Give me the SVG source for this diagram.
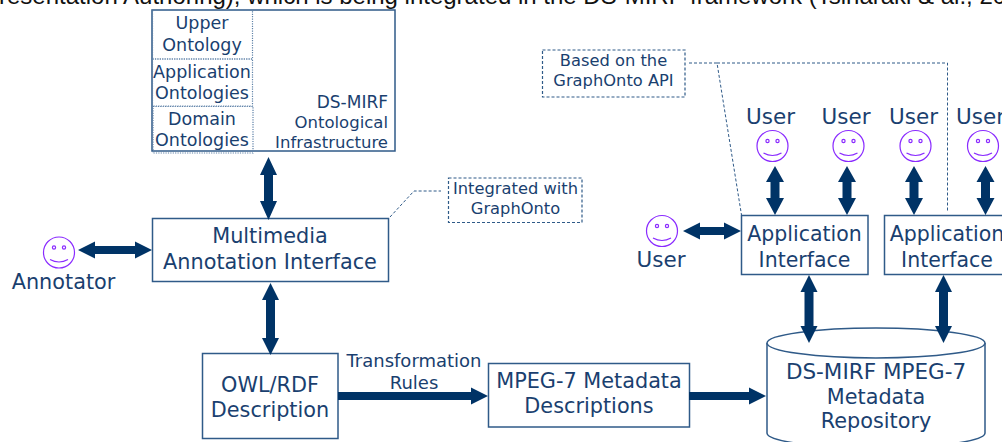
<svg xmlns="http://www.w3.org/2000/svg" width="1002" height="442" viewBox="0 0 1002 442">
<style>
text{font-family:"DejaVu Sans",Verdana,sans-serif;fill:#1a3f6f;text-anchor:middle}
.t21{font-size:20.800px}.t22{font-size:21.500px}.t20{font-size:20.500px}.t18{font-size:18px}.t17{font-size:17.500px}.t16{font-size:16.300px}.t17r{font-size:16.500px;text-anchor:end}
.box{fill:#fff;stroke:#2f5a88;stroke-width:1.5}
.cell{fill:none;stroke:#5f82a8;stroke-width:1.2;stroke-dasharray:1.2 1.2}
.note{fill:#fff;stroke:#2f5a88;stroke-width:1.2;stroke-dasharray:3 2}
.lead{fill:none;stroke:#2f5a88;stroke-width:1;stroke-dasharray:3 2}
.arr{fill:#003366}
.face{fill:none;stroke:#8a2bff;stroke-width:1.2}
</style>
<defs>
<g id="smiley">
<circle class="face" r="15.500"/>
<circle class="face" cx="-5" cy="-5" r="1.600"/>
<circle class="face" cx="5" cy="-5" r="1.600"/>
<path class="face" d="M-9 7Q0 12 9 7"/>
</g>
</defs>
<text id="caption" x="-1" y="3.500" style="font-family:'Liberation Sans',Arial,sans-serif;fill:#111;text-anchor:start;font-size:24px">resentation Authoring), which is being integrated in the DS-MIRF framework (Tsinaraki &amp; al., 20</text>
<g id="ontology-infrastructure">
<rect class="box" x="152" y="10" width="243" height="141"/>
<rect class="cell" x="152.500" y="10.500" width="100" height="48.500"/>
<rect class="cell" x="152.500" y="59" width="100" height="47"/>
<rect class="cell" x="153" y="106.500" width="100" height="46.500"/>
<text class="t17" x="202" y="29">Upper</text>
<text class="t17" x="202" y="51">Ontology</text>
<text class="t17" x="202" y="78">Application</text>
<text class="t17" x="202" y="99">Ontologies</text>
<text class="t17" x="202" y="125">Domain</text>
<text class="t17" x="202" y="146">Ontologies</text>
<text class="t17r" x="388" y="108" style="font-size:17px">DS-MIRF</text>
<text class="t17r" x="388" y="128">Ontological</text>
<text class="t17r" x="388" y="148">Infrastructure</text>
</g>
<g id="multimedia-interface">
<rect class="box" x="152.500" y="218.500" width="236" height="63"/>
<text class="t21" x="270" y="243">Multimedia</text>
<text class="t21" x="270" y="269">Annotation Interface</text>
</g>
<g id="note-integrated">
<rect class="note" x="448.500" y="178" width="133.500" height="44.500"/>
<text class="t16" x="515.500" y="194">Integrated with</text>
<text class="t16" x="515.500" y="214">GraphOnto</text>
</g>
<g id="note-based">
<rect class="note" x="542.500" y="50" width="142.500" height="47"/>
<text class="t16" x="613.500" y="66">Based on the</text>
<text class="t16" x="613.500" y="86">GraphOnto API</text>
</g>
<g id="annotator">
<use href="#smiley" x="59" y="252.500"/>
<text class="t21" x="63.500" y="289">Annotator</text>
</g>
<g id="user-left">
<use href="#smiley" x="662" y="231"/>
<text class="t22" x="661" y="267">User</text>
</g>
<g id="user-1"><text class="t22" x="770.500" y="124">User</text><use href="#smiley" x="772.500" y="146"/></g>
<g id="user-2"><text class="t22" x="846" y="124">User</text><use href="#smiley" x="848.500" y="146"/></g>
<g id="user-3"><text class="t22" x="913.500" y="124">User</text><use href="#smiley" x="915.500" y="146"/></g>
<g id="user-4"><text class="t22" x="980.500" y="124">User</text><use href="#smiley" x="983" y="146"/></g>
<g id="app-interface-1">
<rect class="box" x="741.500" y="215.500" width="126.500" height="59"/>
<text class="t20" x="804.500" y="241">Application</text>
<text class="t20" x="804.500" y="267">Interface</text>
</g>
<g id="app-interface-2">
<rect class="box" x="884.500" y="215.500" width="126.500" height="59"/>
<text class="t20" x="947" y="241">Application</text>
<text class="t20" x="947" y="267">Interface</text>
</g>
<g id="owl-rdf">
<rect class="box" x="202.500" y="353.500" width="135.500" height="85"/>
<text class="t21" x="270" y="392">OWL/RDF</text>
<text class="t21" x="270" y="417">Description</text>
</g>
<g id="label-transformation">
<text class="t18" x="414" y="367">Transformation</text>
<text class="t18" x="414" y="389">Rules</text>
</g>
<g id="mpeg7-descriptions">
<rect class="box" x="488.500" y="363.500" width="201" height="63.500"/>
<text class="t21" x="589" y="388">MPEG-7 Metadata</text>
<text class="t21" x="589" y="413">Descriptions</text>
</g>
<g id="repository">
<path class="box" d="M767 343V433A109 15 0 0 0 985 433V343"/>
<ellipse class="box" cx="876" cy="343" rx="109" ry="15"/>
<text class="t22" x="876" y="379">DS-MIRF MPEG-7</text>
<text class="t21" x="876" y="404">Metadata</text>
<text class="t21" x="876" y="428">Repository</text>
</g>
<g id="connectors">
<path class="lead" d="M390 217L414 191H441"/>
<path class="lead" d="M689 63H717L741.500 215"/>
<path class="lead" d="M717 63H947.500V212"/>
<path class="arr" d="M268.500 157L277 175H273V201H277L268.500 220L260 201H264V175H260Z"/>
<path class="arr" d="M270.500 283L279 300H275V338H279L270.500 355L262 338H266V300H262Z"/>
<path class="arr" d="M78 250L95 241.500V246H135V241.500L152 250L135 258.500V254H95V258.500Z"/>
<path class="arr" d="M683 231L700 222.500V227H724V222.500L741 231L724 239.500V235H700V239.500Z"/>
<path class="arr" d="M775 166L784 182H779.500V198H784L775 215L766 198H770.500V182H766Z"/>
<path class="arr" d="M847 166L856 182H851.500V198H856L847 215L838 198H842.500V182H838Z"/>
<path class="arr" d="M914 166L923 182H918.500V198H923L914 215L905 198H909.500V182H905Z"/>
<path class="arr" d="M985.500 166L994.500 182H990V198H994.500L985.500 215L976.500 198H981V182H976.500Z"/>
<path class="arr" d="M809 275L817.500 292H813.500V326H817.500L809 343L800.500 326H804.500V292H800.500Z"/>
<path class="arr" d="M943.500 275L952 292H948V326H952L943.500 343L935 326H939V292H935Z"/>
<path class="arr" d="M338 392H471V387.500L488 396L471 404.500V400H338Z"/>
<path class="arr" d="M689 392H749V387.500L766 396L749 404.500V400H689Z"/>
</g>
</svg>
